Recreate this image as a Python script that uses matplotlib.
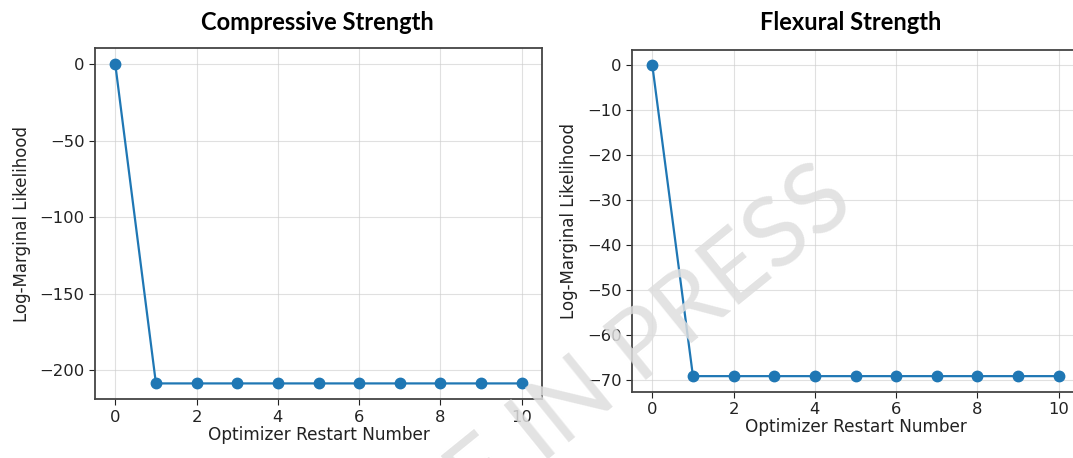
import numpy as np
import matplotlib
matplotlib.use("Agg")
import matplotlib.pyplot as plt

plt.rcParams["font.family"] = ["DejaVu Sans"]

# data
restarts = list(range(11))
compressive_lml = [0.0] + [-208.7] * 10
flexural_lml = [0.0] + [-69.2] * 10

compressive_ticks = [0, -50, -100, -150, -200]
flexural_ticks = [0, -10, -20, -30, -40, -50, -60, -70]
x_ticks = [0, 2, 4, 6, 8, 10]

blue = "#1f77b4"

fig = plt.figure(figsize=(10.73, 4.58), dpi=100)

ax1 = fig.add_axes([0.0885, 0.128, 0.4167, 0.7666])
ax2 = fig.add_axes([0.589, 0.1448, 0.4166, 0.7467])

for ax, vals, yt in [(ax1, compressive_lml, compressive_ticks),
                     (ax2, flexural_lml, flexural_ticks)]:
    ax.plot(restarts, vals, "-o", color=blue, lw=1.6, markersize=7.5, zorder=3)
    ax.set_xticks(x_ticks)
    ax.set_yticks(yt)
    ax.grid(True, color="#cccccc", alpha=0.6, lw=0.8)
    ax.tick_params(labelsize=11.8, colors="#222222", length=4)
    for s in ax.spines.values():
        s.set_color("#444444")
        s.set_linewidth(1.3)
    ax.set_xlabel("Optimizer Restart Number", fontsize=12.2, color="#222222", labelpad=1)
    ax.set_ylabel("Log-Marginal Likelihood", fontsize=12, color="#222222", labelpad=6)

# titles (pasted above the plots)
fig.text(0.296, 0.950, "Compressive Strength", ha="center", va="center",
         fontsize=17, fontweight="bold", family="Lato")
fig.text(0.793, 0.950, "Flexural Strength", ha="center", va="center",
         fontsize=17, fontweight="bold", family="Lato")

# watermark
fig.text(858 / 1073, 1 - 208 / 458, "ARTICLE IN PRESS", ha="right", va="baseline",
         rotation=39, rotation_mode="anchor", fontsize=70, color="#dedede",
         alpha=0.85, family="Lato", zorder=10)

fig.savefig("out.png", dpi=100)
